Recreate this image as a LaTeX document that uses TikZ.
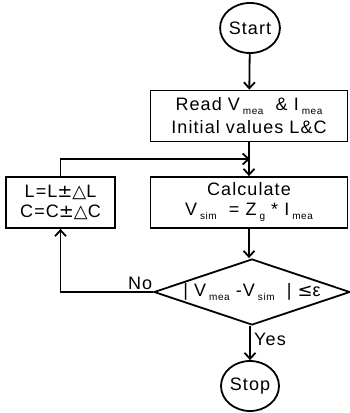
\documentclass[tikz,border=0pt]{standalone}
\usepackage{fontspec}
\setmainfont{Liberation Sans}[LetterSpace=6]
\newfontfamily\symfont{DejaVu Sans}
\usetikzlibrary{shapes.geometric,arrows.meta,positioning,calc}

\newcommand{\lo}[1]{\hspace{3pt}\raisebox{-4pt}{\fontsize{10}{10}\selectfont #1}}

\begin{document}
\begin{tikzpicture}[
  x=1pt, y=-1pt,
  line width=1.8pt,
  font=\fontsize{18}{20}\selectfont,
  >={Straight Barb[length=6pt,width=11pt]},
  term/.style={
    draw,
    ellipse,
    minimum width=58pt,
    minimum height=50pt,
    inner sep=0pt
  },
  proc/.style={
    draw,
    minimum width=#1,
    minimum height=51pt,
    align=center,
    inner sep=0pt
  },
  decide/.style={
    draw,
    diamond,
    aspect=3,
    minimum width=196pt,
    minimum height=66pt,
    inner sep=0pt
  }
]
\useasboundingbox (0,0) rectangle (349,413);

% -------- Terminals --------
\node[term] (start) at (250,28) {Start};
\node[term] (stop) at (250,386) {Stop};

% -------- Main column --------
\node[proc=197pt] (read) at (249,116)
{Read V\lo{mea} \ \& I\lo{mea}\\[3pt]
Initial values L\&C};

\node[proc=197pt] (calc) at (249,202.5)
{Calculate\\
V\lo{sim} \ = Z\lo{g} * I\lo{mea}};

\node[decide] (check) at (252,292)
{|\ V\lo{mea}\ -V\lo{sim}\ \ |\ {\symfont ≤}ε};

% -------- Correction --------
\node[proc=109pt] (update) at (60.5,202.5)
{L=L{\symfont ±△}L\\
C=C{\symfont ±△}C};

\coordinate (merge) at (250,159);

% -------- Connectors --------
\draw[->] (start) -- (read);
\draw[->] (read) -- (calc);
\draw[->] (calc) -- (check.north -| calc);
\draw[->] (check.south -| stop) -- node[right, pos=0.4] (yes) {Yes} (stop);
\draw[->] (check.west) -| node[above, pos=0.07, inner sep=1pt] (no) {No} (update.south);
\draw[->] (update.north) |- (merge);

\end{tikzpicture}
\end{document}
